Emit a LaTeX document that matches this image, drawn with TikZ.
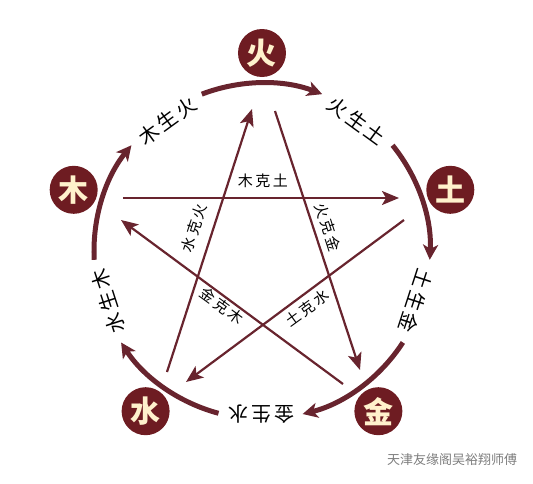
\documentclass[tikz,border=0pt]{standalone}
\usepackage{fontspec}
\newfontfamily\cjk{Noto Sans CJK SC}
\usepackage{xcolor}
\definecolor{wxred}{RGB}{110, 28, 34}
\definecolor{wxline}{RGB}{104, 36, 46}
\definecolor{wxcream}{RGB}{255, 241, 204}
\definecolor{wmgray}{RGB}{125, 125, 125}
\usepackage{tikz}
\usetikzlibrary{arrows.meta,calc}

\newcommand{\gap}{\hspace{3pt}}
\newcommand{\kgap}{\hspace{2.5pt}}

\begin{document}
\begin{tikzpicture}[x=1pt, y=1pt, every node/.style={font=\cjk},
    elem/.style={circle, fill=wxred, text=wxcream, minimum size=48pt, inner sep=0pt, font=\cjk\bfseries\fontsize{30pt}{30pt}\selectfont},
    shengarc/.style={line width=5pt, color=wxline, -{Stealth[length=15pt, width=15pt, inset=4pt]}},
    kearrow/.style={line width=2.2pt, color=wxline, -{Stealth[length=17pt, width=14pt, inset=4pt]}},
    shenglabel/.style={inner sep=1pt, font=\cjk\fontsize{20pt}{20pt}\selectfont},
    kelabel/.style={inner sep=1pt, font=\cjk\fontsize{15pt}{15pt}\selectfont}]
    \useasboundingbox (-262,-232) rectangle (271,251);

    % Five elements
    \node[elem] (huo) at (90:198) {火};
    \node[elem] (tu) at (18:198) {土};
    \node[elem] (jin) at (-54:198) {金};
    \node[elem] (shui) at (-126:198) {水};
    \node[elem] (mu) at (162:198) {木};

    % Generating cycle (outer ring)
    \node[shenglabel, rotate=36] (mu-huo) at (126:161) {木\gap 生\gap 火};
    \node[shenglabel, rotate=-36] (huo-tu) at (54:161) {火\gap 生\gap 土};
    \node[shenglabel, rotate=-108] (tu-jin) at (-18:162) {土\gap 生\gap 金};
    \node[shenglabel, rotate=-180] (jin-shui) at (-90:163) {金\gap 生\gap 水};
    \node[shenglabel, rotate=108] (shui-mu) at (198:162) {水\gap 生\gap 木};

    \coordinate (ring-mu) at (183:168);
    \coordinate (ring-huo) at (111:168);
    \coordinate (ring-tu) at (39:168);
    \coordinate (ring-jin) at (-33:168);
    \coordinate (ring-shui) at (-105:168);

    \draw[shengarc] (ring-mu) arc[start angle=183, end angle=141, radius=168];
    \draw[shengarc] (ring-huo) arc[start angle=111, end angle=69, radius=168];
    \draw[shengarc] (ring-tu) arc[start angle=39, end angle=-3, radius=168];
    \draw[shengarc] (ring-jin) arc[start angle=-33, end angle=-76, radius=168];
    \draw[shengarc] (ring-shui) arc[start angle=-105, end angle=-147, radius=168];

    % Restraining cycle (inner star)
    \coordinate (mk-a) at (-139,53);
    \coordinate (mk-b) at (137,53);
    \coordinate (tk-a) at (142,31);
    \coordinate (tk-b) at (-76,-131);
    \coordinate (sk-a) at (-95,-121);
    \coordinate (sk-b) at (-10,142);
    \coordinate (hk-a) at (13,140);
    \coordinate (hk-b) at (98,-119);
    \coordinate (jk-a) at (81,-133);
    \coordinate (jk-b) at (-141,31);

    \draw[kearrow] (mk-a) -- (mk-b);
    \draw[kearrow] (tk-a) -- (tk-b);
    \draw[kearrow] (sk-a) -- (sk-b);
    \draw[kearrow] (hk-a) -- (hk-b);
    \draw[kearrow] (jk-a) -- (jk-b);

    \node[kelabel] (mu-tu) at (1,70) {木\kgap 克\kgap 土};
    \node[kelabel, rotate=72] (shui-huo) at (-68,23) {水\kgap 克\kgap 火};
    \node[kelabel, rotate=-72] (huo-jin) at (66,24) {火\kgap 克\kgap 金};
    \node[kelabel, rotate=-36] (jin-mu) at (-40,-55) {金\kgap 克\kgap 木};
    \node[kelabel, rotate=36] (tu-shui) at (45,-57) {土\kgap 克\kgap 水};

    % Signature
    \node[font=\cjk\fontsize{13pt}{13pt}\selectfont, text=wmgray] (sign) at (190,-209) {天津友缘阁吴裕翔师傅};
\end{tikzpicture}
\end{document}
